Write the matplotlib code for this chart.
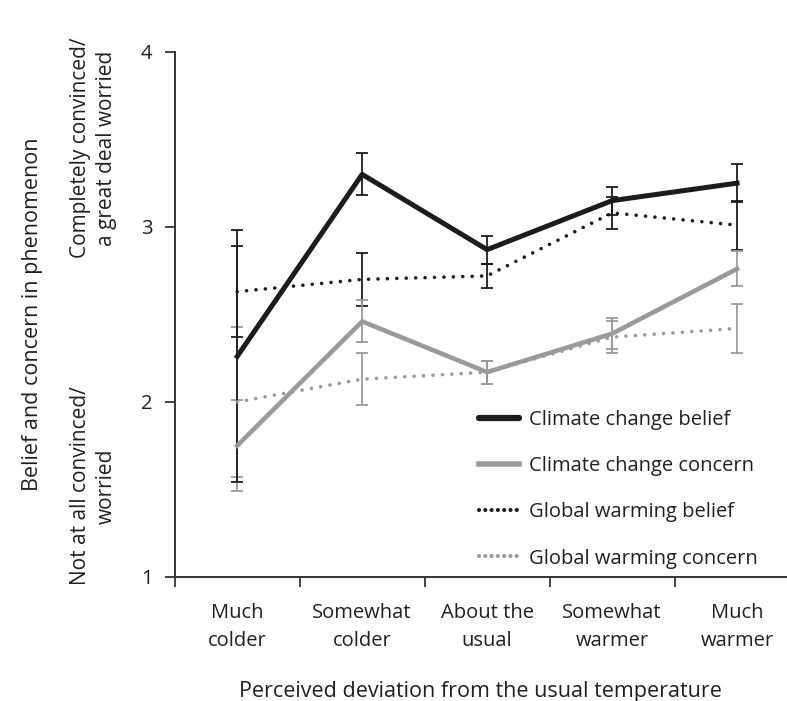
import matplotlib
matplotlib.use('Agg')
import matplotlib.pyplot as plt
from matplotlib.lines import Line2D
from matplotlib.transforms import blended_transform_factory

plt.rcParams['font.family'] = ['Open Sans', 'DejaVu Sans']

# Categories and values
categories = ['Much\ncolder', 'Somewhat\ncolder', 'About the\nusual', 'Somewhat\nwarmer', 'Much\nwarmer']
cc_belief = [2.26, 3.30, 2.87, 3.15, 3.25]
cc_belief_err = [0.72, 0.12, 0.08, 0.08, 0.11]
cc_concern = [1.75, 2.46, 2.17, 2.39, 2.76]
cc_concern_err = [0.26, 0.12, 0.065, 0.09, 0.10]
gw_belief = [2.63, 2.70, 2.72, 3.08, 3.01]
gw_belief_err = [0.26, 0.15, 0.07, 0.09, 0.14]
gw_concern = [2.00, 2.13, 2.17, 2.37, 2.42]
gw_concern_err = [0.43, 0.15, 0.065, 0.09, 0.14]

txt = '#231f20'
dark = '#1c1c1c'
grey = '#9a9a9a'
xs = [i + 0.5 for i in range(len(categories))]

fig = plt.figure(figsize=(7.87, 7.01), dpi=100)
ax = fig.add_axes([0.222, 0.177, 0.778, 0.749])

# dotted series first so the solid ones sit on top
dots = (0, (0.01, 2.6))
ax.errorbar(xs, gw_concern, yerr=gw_concern_err, color=grey, lw=2.6, ls=dots,
            dash_capstyle='round', ecolor=grey, elinewidth=1.3, capsize=4, capthick=1.3)
ax.errorbar(xs, gw_belief, yerr=gw_belief_err, color=dark, lw=2.6, ls=dots,
            dash_capstyle='round', ecolor=dark, elinewidth=1.3, capsize=4, capthick=1.3)
ax.errorbar(xs, cc_concern, yerr=cc_concern_err, color=grey, lw=3.3,
            ecolor=grey, elinewidth=1.3, capsize=4, capthick=1.3)
ax.errorbar(xs, cc_belief, yerr=cc_belief_err, color=dark, lw=3.6,
            ecolor=dark, elinewidth=1.3, capsize=4, capthick=1.3)

ax.set_xlim(0, 4.9)
ax.set_ylim(1, 4)
ax.set_yticks([1, 2, 3, 4])
ax.set_xticks(range(5))
ax.set_xticklabels([])
ax.set_xticks(xs, minor=True)
ax.set_xticklabels(categories, minor=True, fontsize=14.5, color=txt, linespacing=1.5)
ax.tick_params(axis='x', which='minor', length=0, pad=19)
ax.tick_params(axis='x', which='major', length=7, width=1.3, color='#333333')
ax.tick_params(axis='y', length=7, width=1.3, color='#333333', labelsize=14.5, labelcolor=txt, pad=9)
for s in ['top', 'right']:
    ax.spines[s].set_visible(False)
for s in ['left', 'bottom']:
    ax.spines[s].set_linewidth(1.4)
    ax.spines[s].set_color('#333333')

ax.set_xlabel('Perceived deviation from the usual temperature', fontsize=15.5, color=txt, labelpad=22)

tr = blended_transform_factory(fig.transFigure, ax.transData)
ax.text(0.041, 2.5, 'Belief and concern in phenomenon', transform=tr, rotation=90,
        ha='center', va='center', fontsize=15.5, color=txt)
ax.text(0.119, 3.45, 'Completely convinced/\na great deal worried', transform=tr, rotation=90,
        ha='center', va='center', fontsize=15, color=txt, multialignment='center', linespacing=1.3)
ax.text(0.119, 1.52, 'Not at all convinced/\nworried', transform=tr, rotation=90,
        ha='center', va='center', fontsize=15, color=txt, multialignment='center', linespacing=1.3)

handles = [
    Line2D([], [], color=dark, lw=4.5, solid_capstyle='round'),
    Line2D([], [], color=grey, lw=4),
    Line2D([], [], color=dark, lw=3, ls=(0, (0.01, 1.5)), dash_capstyle='round'),
    Line2D([], [], color=grey, lw=3, ls=(0, (0.01, 1.5)), dash_capstyle='round'),
]
labels = ['Climate change belief', 'Climate change concern', 'Global warming belief', 'Global warming concern']
leg = fig.legend(handles, labels, loc='upper left', bbox_to_anchor=(0.585, 0.441), frameon=False,
                 fontsize=14.5, handlelength=2.0, handletextpad=0.5, labelspacing=1.3)
for t in leg.get_texts():
    t.set_color(txt)

fig.savefig('out.png', dpi=100)
